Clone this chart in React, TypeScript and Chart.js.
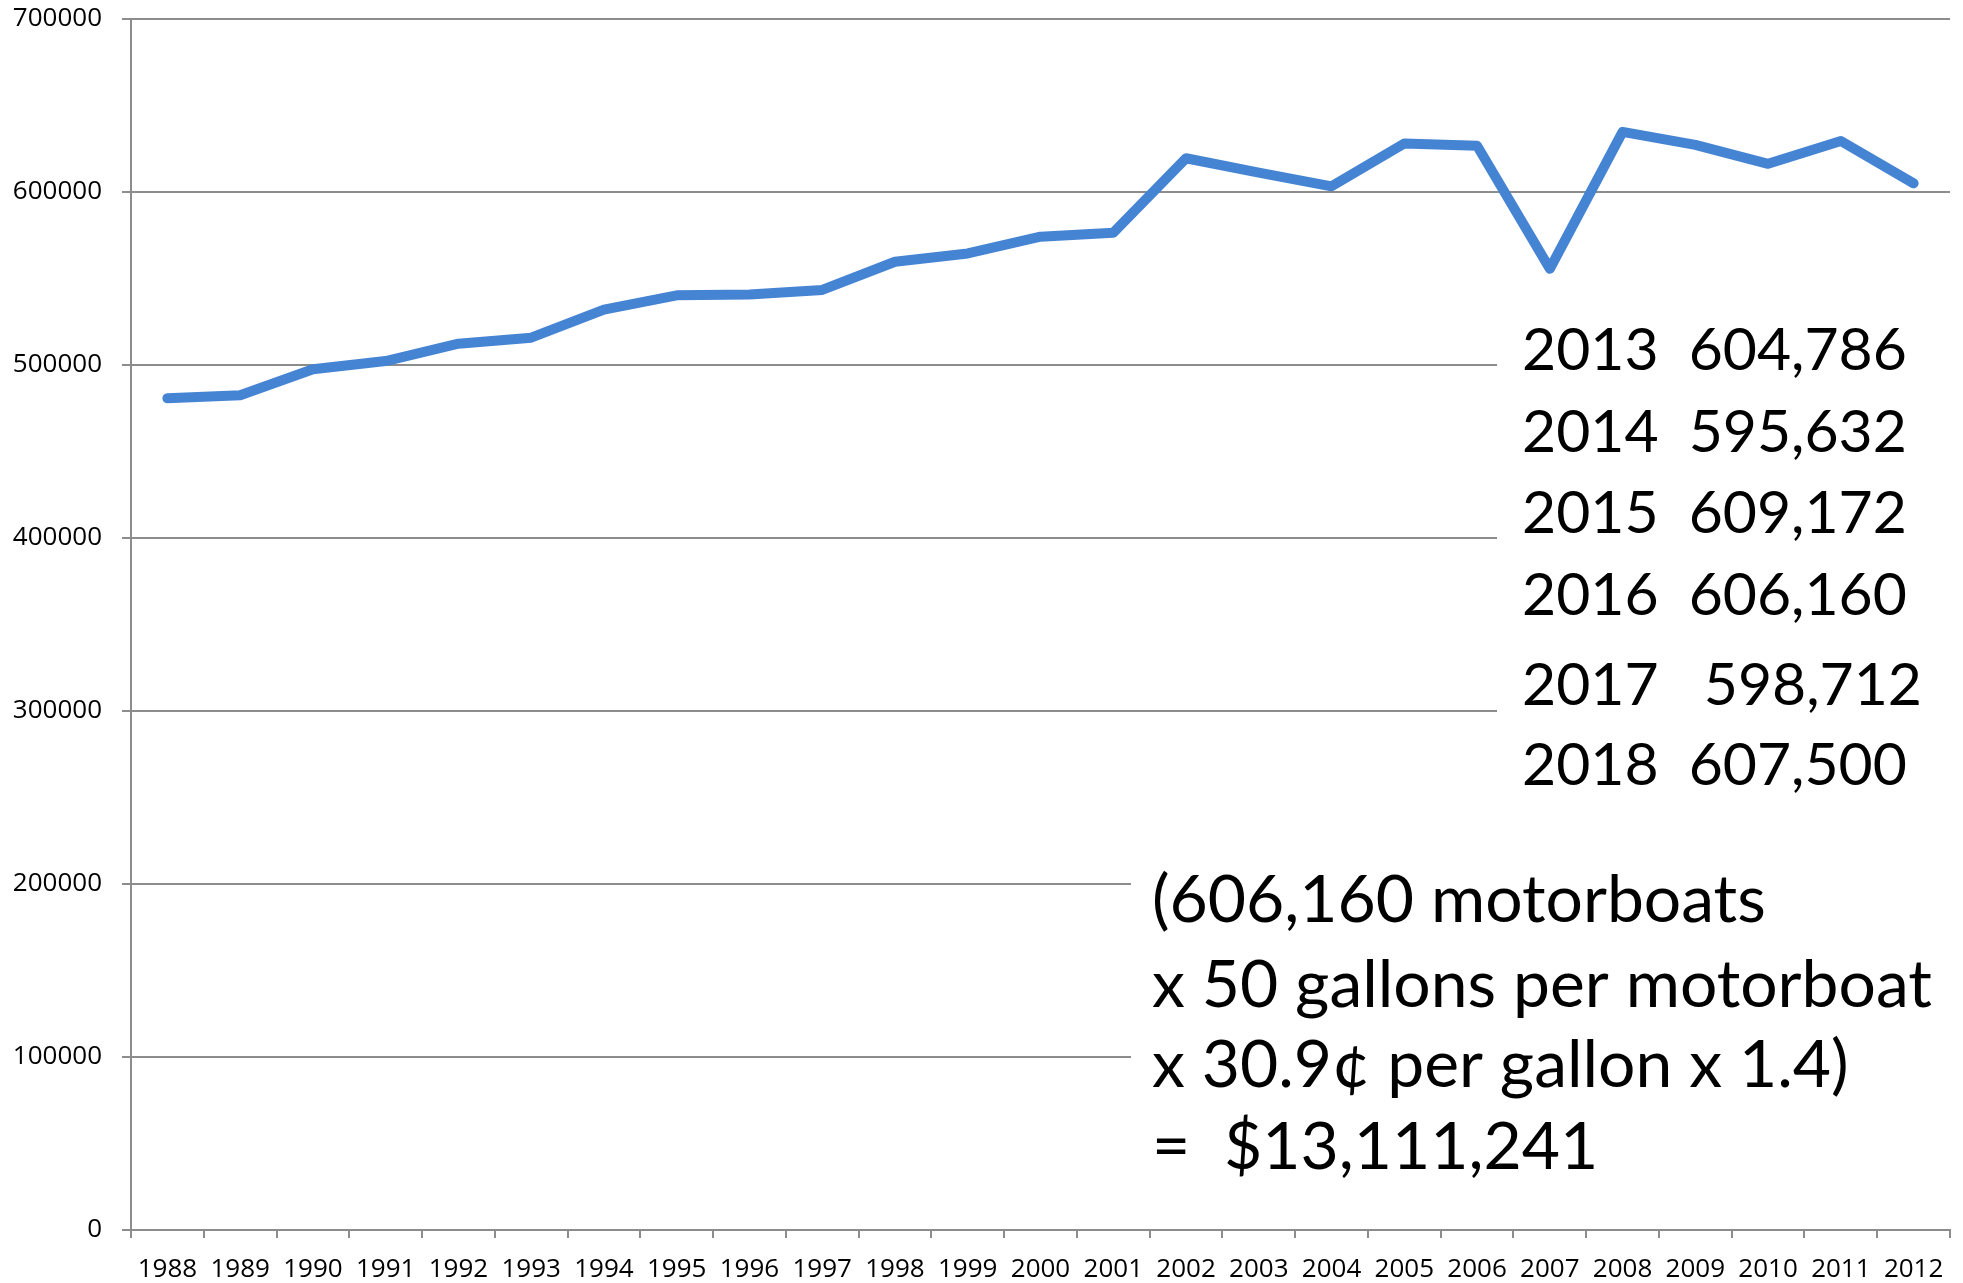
import React, { useEffect, useRef } from "react";
import { Chart, registerables } from "chart.js";

Chart.register(...registerables);

const years = [
  "1988", "1989", "1990", "1991", "1992", "1993", "1994", "1995", "1996", "1997",
  "1998", "1999", "2000", "2001", "2002", "2003", "2004", "2005", "2006", "2007",
  "2008", "2009", "2010", "2011", "2012",
];

const motorboats = [
  480800, 482500, 497500, 502300, 512300, 515800, 532000, 540300, 540700, 543400,
  559700, 564500, 574200, 576500, 619500, 611200, 603300, 628000, 626700, 555600,
  634800, 627200, 616300, 629500, 605000,
];

const yMin = 0;
const yMax = 700000;
const yStep = 100000;

const projectionLines = [
  "2013  604,786",
  "2014  595,632",
  "2015  609,172",
  "2016  606,160",
  "2017   598,712",
  "2018  607,500",
];

const formulaLines = [
  "(606,160 motorboats",
  "x 50 gallons per motorboat",
  "x 30.9¢ per gallon x 1.4)",
  "=  $13,111,241",
];

const FONT = "Lato, 'Open Sans', sans-serif";
const TICK_FONT = "'Open Sans', sans-serif";

function drawBlock(
  ctx: CanvasRenderingContext2D,
  lines: string[],
  x: number,
  centers: number[],
  targetWidth: number,
  refIdx: number
) {
  ctx.font = `100px ${FONT}`;
  const w = ctx.measureText(lines[refIdx]).width;
  const size = (100 * targetWidth) / w;
  ctx.font = `${size}px ${FONT}`;
  const asc = ctx.measureText("0").actualBoundingBoxAscent;
  ctx.textAlign = "left";
  ctx.textBaseline = "alphabetic";
  lines.forEach((t, i) => {
    ctx.fillText(t, x, centers[i] + asc / 2);
  });
}

const annotations = {
  id: "annotations",
  beforeDatasetsDraw(chart: any) {
    const ctx: CanvasRenderingContext2D = chart.ctx;
    ctx.save();
    ctx.fillStyle = "#ffffff";
    ctx.fillRect(1497, 295, 466, 505);
    ctx.fillRect(1131, 845, 832, 345);
    ctx.fillStyle = "#000000";
    drawBlock(ctx, projectionLines, 1522, [349, 431, 512, 594, 684, 764], 385, 0);
    drawBlock(ctx, formulaLines, 1152, [898, 983, 1063, 1145], 780, 1);
    ctx.restore();
  },
};

export default function App() {
  const ref = useRef<HTMLCanvasElement | null>(null);

  useEffect(() => {
    if (!ref.current) return;
    const gridColor = "#8c8c8c";
    const chart = new Chart(ref.current, {
      type: "line",
      data: {
        labels: years,
        datasets: [
          {
            data: motorboats,
            borderColor: "#4584d3",
            backgroundColor: "#4584d3",
            borderWidth: 10,
            pointRadius: 0,
            borderCapStyle: "round",
            borderJoinStyle: "round",
            tension: 0,
            fill: false,
          },
        ],
      },
      options: {
        responsive: false,
        animation: false,
        layout: { padding: { top: 19, right: 13, left: 0, bottom: 0 } },
        plugins: {
          legend: { display: false },
          title: { display: false },
          tooltip: { enabled: false },
        },
        scales: {
          x: {
            type: "category",
            offset: true,
            grid: {
              offset: true,
              drawOnChartArea: false,
              drawTicks: true,
              tickLength: 8,
              color: gridColor,
              lineWidth: 2,
            },
            border: { color: gridColor, width: 2 },
            ticks: {
              color: "#000",
              font: { family: TICK_FONT, size: 26 },
              padding: 16,
              autoSkip: false,
              maxRotation: 0,
              minRotation: 0,
            },
            afterFit: (scale: any) => {
              scale.height = 53;
              scale.paddingLeft = 0;
              scale.paddingRight = 0;
            },
          },
          y: {
            min: yMin,
            max: yMax,
            ticks: {
              stepSize: yStep,
              color: "#000",
              font: { family: TICK_FONT, size: 26 },
              padding: 20,
              callback: (v: any) => String(v),
            },
            grid: {
              color: gridColor,
              lineWidth: 2,
              tickLength: 9,
            },
            border: { color: gridColor, width: 2 },
            afterFit: (scale: any) => {
              scale.width = 131;
              scale.paddingTop = 0;
              scale.paddingBottom = 0;
            },
          },
        },
      },
      plugins: [annotations],
    });
    return () => chart.destroy();
  }, []);

  return (
    <div style={{ position: "fixed", left: 0, top: 0, width: 1963, height: 1283, background: "#fff" }}>
      <canvas ref={ref} width={1963} height={1283} style={{ display: "block" }} />
    </div>
  );
}
